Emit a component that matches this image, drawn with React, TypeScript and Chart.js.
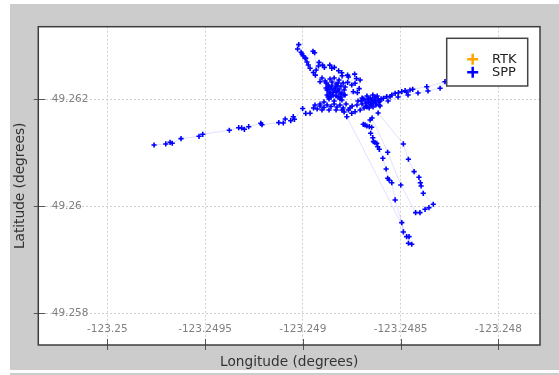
import React, { useEffect, useRef } from "react";
import { Chart, registerables } from "chart.js";

Chart.register(...registerables);

const seriesNames = ["RTK", "SPP"];
const seriesColors = ["#ffa500", "#0000ff"];

const xTitle = "Longitude (degrees)";
const yTitle = "Latitude (degrees)";

const xTickValues = [-123.25, -123.2495, -123.249, -123.2485, -123.248];
const yTickValues = [49.258, 49.26, 49.262];
const xRange = [-123.250353, -123.247787];
const yRange = [49.257407, 49.263357];

const rtkLon: number[] = [];
const rtkLat: number[] = [];

const sppLon = [
  -123.249761, -123.249701, -123.249679, -123.249668, -123.249623, -123.249531, -123.249512, -123.249376, -123.249328, -123.249313,
  -123.249299, -123.249277, -123.249215, -123.249209, -123.249123, -123.2491, -123.24909, -123.249062, -123.249049, -123.249043,
  -123.249001, -123.248985, -123.248963, -123.248945, -123.248927, -123.248912, -123.248892, -123.248876, -123.248856, -123.24884,
  -123.248825, -123.24881, -123.248794, -123.248779, -123.2488, -123.24882, -123.248846, -123.248866, -123.248856, -123.248835,
  -123.24882, -123.248805, -123.24883, -123.248851, -123.248871, -123.248881, -123.248861, -123.24884, -123.248815, -123.248794,
  -123.248789, -123.24881, -123.24883, -123.248856, -123.248876, -123.248886, -123.248902,
  -123.248876, -123.248866, -123.248851, -123.24884, -123.248825, -123.248815, -123.2488, -123.248846, -123.248861, -123.24883,
  -123.248805, -123.248789, -123.248881, -123.24882, -123.248784, -123.248871,
  -123.248912, -123.248936, -123.248946,
  -123.248963, -123.248972, -123.248979, -123.248985, -123.248999, -123.249009, -123.249027, -123.249021, -123.249004, -123.248989,
  -123.248948, -123.24894, -123.248932, -123.24892, -123.248917, -123.248899, -123.24889, -123.248862, -123.248852, -123.248839,
  -123.248817, -123.248801, -123.248799, -123.248771, -123.248767, -123.248735, -123.248726, -123.248771, -123.24875, -123.248733,
  -123.248707, -123.248712, -123.248742, -123.248721, -123.248784, -123.24881, -123.24884, -123.248866, -123.248892, -123.248912,
  -123.248938, -123.248902, -123.248866, -123.24883, -123.248789, -123.248748, -123.248723,
  -123.2488, -123.248767, -123.24875, -123.248733, -123.248707, -123.248697, -123.248682, -123.248666, -123.248656, -123.248642,
  -123.248636, -123.248626, -123.248615, -123.248605, -123.248651, -123.248677, -123.248697, -123.248718, -123.248672, -123.248631,
  -123.24861, -123.248661, -123.248687,
  -123.248702, -123.248692, -123.248677, -123.248666, -123.248651, -123.248641, -123.248631, -123.24862, -123.24861, -123.2486,
  -123.248656, -123.248672, -123.248641, -123.248626, -123.248646,
  -123.248588, -123.248571, -123.248554, -123.248545, -123.248528, -123.248511, -123.248494,
  -123.248477, -123.248469, -123.248452, -123.248438, -123.248366, -123.248273, -123.248298, -123.24836, -123.248411, -123.248462,
  -123.248513, -123.248564, -123.248605, -123.248615, -123.248486, -123.24846, -123.248431, -123.248406, -123.248399, -123.248395,
  -123.248384, -123.248333, -123.248355, -123.248375, -123.248401, -123.248423, -123.248499, -123.248566, -123.248646, -123.248656,
  -123.248682, -123.248691, -123.248673, -123.24866, -123.248648, -123.248653, -123.248642, -123.248639, -123.248631, -123.248622,
  -123.248617, -123.248609, -123.248591, -123.248574, -123.248566, -123.248559, -123.248545, -123.248528, -123.248494, -123.248486,
  -123.248469, -123.248457, -123.24846, -123.248443, -123.248775, -123.248759,
];

const sppLat = [
  49.261146, 49.261165, 49.261196, 49.261178, 49.261264, 49.261308, 49.261346, 49.261421, 49.261469, 49.261464,
  49.261439, 49.261488, 49.261551, 49.261525, 49.261563, 49.261557, 49.261632, 49.2616, 49.261675, 49.261626,
  49.261828, 49.261735, 49.26174, 49.261837, 49.261819, 49.261875, 49.261847, 49.261893, 49.261865, 49.261912,
  49.261856, 49.261893, 49.261837, 49.261912, 49.261987, 49.262043, 49.26208, 49.262136, 49.262193, 49.262211,
  49.262155, 49.262249, 49.262286, 49.262323, 49.262267, 49.262211, 49.262379, 49.262398, 49.262361, 49.262305,
  49.262174, 49.262099, 49.262136, 49.262043, 49.26208, 49.262342, 49.262398,
  49.262174, 49.26223, 49.262249, 49.262174, 49.262249, 49.262193, 49.262118, 49.262127, 49.262099, 49.262062,
  49.262043, 49.26208, 49.262305, 49.262305, 49.26223, 49.262043,
  49.262329, 49.262452, 49.262501,
  49.262579, 49.262641, 49.262697, 49.262764, 49.262815, 49.262878, 49.26294, 49.263022, 49.262847, 49.262772,
  49.262897, 49.262871, 49.262548, 49.262622, 49.26269, 49.262639, 49.262596, 49.262639, 49.262579, 49.262596,
  49.262533, 49.262497, 49.262439, 49.262452, 49.262417, 49.262471, 49.262389, 49.262316, 49.262267, 49.262299,
  49.262361, 49.2622, 49.262142, 49.262123, 49.26208, 49.262006, 49.261968, 49.262006, 49.26195, 49.261912,
  49.261893, 49.2618, 49.2618, 49.2618, 49.261763, 49.261875, 49.261893,
  49.2618, 49.2618, 49.261738, 49.261768, 49.2618, 49.261912, 49.261987, 49.26195, 49.262024, 49.26208,
  49.261987, 49.261931, 49.262006, 49.261968, 49.261893, 49.261875, 49.262024, 49.261968, 49.262062, 49.262043,
  49.261893, 49.261837, 49.261837,
  49.261968, 49.262006, 49.261931, 49.262006, 49.261968, 49.261931, 49.261978, 49.262062, 49.26195, 49.262006,
  49.261912, 49.261856, 49.261856, 49.261893, 49.261996,
  49.262019, 49.262049, 49.262049, 49.26208, 49.262112, 49.262123, 49.262142,
  49.262161, 49.262136, 49.262174, 49.262187, 49.262235, 49.262329, 49.262206, 49.262155, 49.262118, 49.26208,
  49.262043, 49.261968, 49.261875, 49.261744, 49.261165, 49.260879, 49.260647, 49.260542, 49.260441, 49.26038,
  49.260243, 49.260038, 49.259974, 49.259944, 49.259881, 49.259881, 49.260398, 49.261009, 49.26165, 49.261613,
  49.26152, 49.261533, 49.261501, 49.261488, 49.261477, 49.261365, 49.261282, 49.261208, 49.261189, 49.261178,
  49.261114, 49.261065, 49.260897, 49.260697, 49.260523, 49.260492, 49.260441, 49.260118, 49.259694, 49.25952,
  49.259432, 49.259432, 49.259309, 49.25929, 49.261675, 49.261837,
];

const FONT = "DejaVu Sans";

const framePlugin = {
  id: "frame",
  beforeDraw(chart: any) {
    const { ctx, chartArea: a } = chart;
    ctx.save();
    ctx.fillStyle = "#ffffff";
    ctx.fillRect(a.left, a.top, a.right - a.left, a.bottom - a.top);
    ctx.restore();
  },
  afterDraw(chart: any) {
    const { ctx, chartArea: a, scales } = chart;
    ctx.save();
    // tick marks crossing the frame
    ctx.strokeStyle = "#555555";
    ctx.lineWidth = 1;
    ctx.beginPath();
    scales.y.ticks.forEach((t: any) => {
      const py = Math.round(scales.y.getPixelForValue(t.value)) + 0.5;
      ctx.moveTo(a.left - 4.5, py);
      ctx.lineTo(a.left + 7, py);
    });
    scales.x.ticks.forEach((t: any) => {
      const px = Math.round(scales.x.getPixelForValue(t.value)) + 0.5;
      ctx.moveTo(px, a.bottom - 6);
      ctx.lineTo(px, a.bottom + 5);
    });
    ctx.stroke();
    // frame
    ctx.strokeStyle = "#3c3c3c";
    ctx.lineWidth = 1.5;
    ctx.strokeRect(a.left, a.top, a.right - a.left, a.bottom - a.top);
    // legend
    const bw = 81;
    const bh = 47.7;
    const bx = a.right - 12.3 - bw;
    const by = a.top + 11.6;
    ctx.fillStyle = "#ffffff";
    ctx.fillRect(bx, by, bw, bh);
    ctx.strokeStyle = "#444444";
    ctx.lineWidth = 1.5;
    ctx.strokeRect(bx, by, bw, bh);
    chart.data.datasets.forEach((ds: any, i: number) => {
      const cy = by + 21 + i * 13;
      const cx = bx + 26;
      ctx.strokeStyle = ds.pointBorderColor;
      ctx.lineWidth = 2.5;
      ctx.beginPath();
      ctx.moveTo(cx - 5.5, cy);
      ctx.lineTo(cx + 5.5, cy);
      ctx.moveTo(cx, cy - 5.5);
      ctx.lineTo(cx, cy + 5.5);
      ctx.stroke();
      ctx.fillStyle = "#222222";
      ctx.font = `13px "${FONT}"`;
      ctx.textBaseline = "middle";
      ctx.textAlign = "left";
      ctx.fillText(ds.label, bx + 45.3, cy);
    });
    ctx.restore();
  },
};

export default function App() {
  const canvasRef = useRef<HTMLCanvasElement | null>(null);

  useEffect(() => {
    const canvas = canvasRef.current;
    if (!canvas) return;
    const lons = [rtkLon, sppLon];
    const lats = [rtkLat, sppLat];
    const chart = new Chart(canvas, {
      type: "scatter",
      data: {
        datasets: seriesNames.map((name, i) => ({
          label: name,
          data: lons[i].map((x, j) => ({ x, y: lats[i][j] })),
          showLine: true,
          borderColor: "rgba(0,0,255,0.12)",
          borderWidth: 1,
          pointStyle: "cross",
          pointRadius: 2.6,
          pointBorderWidth: 1.6,
          pointBorderColor: seriesColors[i],
          pointBackgroundColor: seriesColors[i],
        })),
      },
      options: {
        responsive: false,
        animation: false,
        events: [],
        layout: { padding: { top: 22.7, right: 19, bottom: 0, left: 0 } },
        plugins: { legend: { display: false }, tooltip: { enabled: false } },
        scales: {
          x: {
            type: "linear",
            min: xRange[0],
            max: xRange[1],
            afterBuildTicks: (s: any) => {
              s.ticks = xTickValues.map((value) => ({ value }));
            },
            afterFit: (s: any) => {
              s.height = 25;
            },
            grid: { color: "#cfcfcf", drawTicks: false, tickLength: 0 },
            border: { display: false, dash: [2, 2] },
            ticks: {
              mirror: true,
              padding: 9,
              color: "#808080",
              font: { family: FONT, size: 10.5 },
              maxRotation: 0,
              autoSkip: false,
              callback: (v: any) => String(v),
            },
            title: {
              display: true,
              text: xTitle,
              color: "#333333",
              font: { family: FONT, size: 13.7, lineHeight: 1.1 },
              padding: { top: 0, bottom: 0 },
            },
          },
          y: {
            type: "linear",
            min: yRange[0],
            max: yRange[1],
            afterBuildTicks: (s: any) => {
              s.ticks = yTickValues.map((value) => ({ value }));
            },
            afterFit: (s: any) => {
              s.width = 28.3;
            },
            grid: { color: "#cfcfcf", drawTicks: false, tickLength: 0 },
            border: { display: false, dash: [2, 2] },
            ticks: {
              mirror: true,
              padding: 13.4,
              color: "#808080",
              font: { family: FONT, size: 10.5 },
              autoSkip: false,
              callback: (v: any) => String(v),
            },
            title: {
              display: true,
              text: yTitle,
              color: "#333333",
              font: { family: FONT, size: 13.7, lineHeight: 1.1 },
              padding: { top: 2.5, bottom: 0 },
            },
          },
        },
      },
      plugins: [framePlugin],
    } as any);
    return () => chart.destroy();
  }, []);

  return (
    <>
      <div
        style={{
          position: "absolute",
          left: 10,
          top: 4,
          width: 549,
          height: 366,
          background: "#cccccc",
        }}
      >
        <canvas ref={canvasRef} width={549} height={366} style={{ display: "block", width: 549, height: 366 }} />
      </div>
      <div style={{ position: "absolute", left: 10, top: 373, width: 549, height: 2, background: "#cccccc" }} />
    </>
  );
}
